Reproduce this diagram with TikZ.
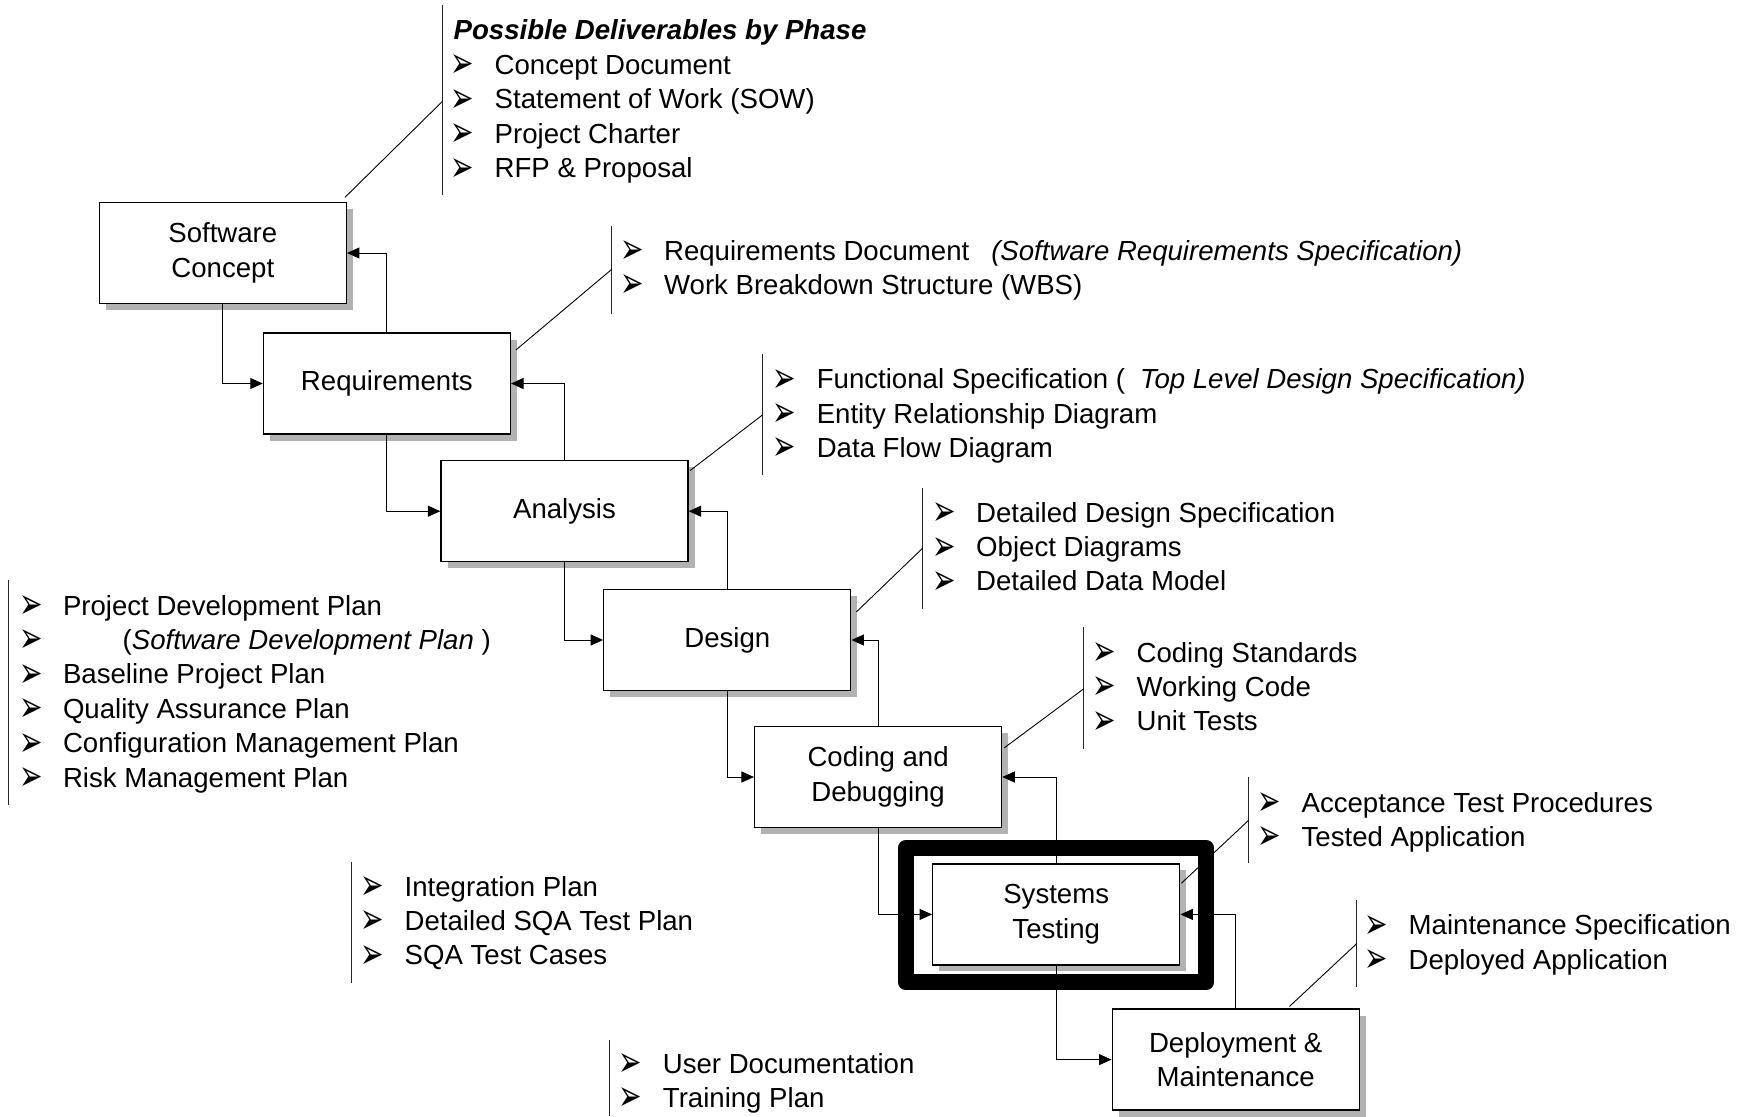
\documentclass[tikz,border=0pt]{standalone}
\usepackage{fontspec}
\usepackage{graphicx}
\setmainfont{Liberation Sans}
\newfontfamily\symfont{DejaVu Sans}
\usetikzlibrary{arrows.meta,shadows,calc}
\newcommand\blt{\makebox[41pt][l]{\hspace{-3pt}\smash{\raisebox{-3.5pt}{\scalebox{0.85}[1.3]{\symfont\fontsize{33}{33}\selectfont ➢}}}}}
\newcommand\itemlist[1]{\begin{tabular}[t]{@{}l@{}}#1\end{tabular}}
\begin{document}
\begin{tikzpicture}[x=1pt,y=-1pt,
  phase/.style={draw=black, line width=1.3pt, fill=white, minimum width=247pt,
    minimum height=101pt, inner sep=0pt, align=center,
    font=\fontsize{27.6}{34.4}\selectfont,
    drop shadow={shadow xshift=6.5pt, shadow yshift=-6.5pt, fill=black!30, opacity=1}},
  flow/.style={line width=1pt, -{Triangle[length=12.5pt,width=11pt]}},
  bar/.style={line width=1pt, black!85},
  lead/.style={line width=0.9pt},
  list/.style={anchor=base west, inner sep=0pt, font=\fontsize{27.6}{34.4}\selectfont},
  frame/.style={draw=black, line width=16pt, line join=round, minimum width=300pt,
    minimum height=134.7pt, inner sep=0pt}]
\useasboundingbox (0,0) rectangle (1747,1116);

% highlight frame
\node[frame] (hl) at (1056,915) {};

% phases
\node[phase] (SC) at (222.8,253)   {Software\\Concept};
\node[phase] (RQ) at (386.9,383.5) {Requirements};
\node[phase] (AN) at (564.5,511.2) {Analysis};
\node[phase] (DE) at (727.3,640)   {Design};
\node[phase] (CO) at (878.1,777)   {Coding and\\Debugging};
\node[phase] (ST) at (1056.2,914.4){Systems\\Testing};
\node[phase] (DP) at (1235.7,1059.6){Deployment \&\\Maintenance};

% forward and return connectors
\draw[flow] (SC.south) |- (RQ.west);
\draw[flow] (RQ.north) |- (SC.east);
\draw[flow] (RQ.south) |- (AN.west);
\draw[flow] (AN.north) |- (RQ.east);
\draw[flow] (AN.south) |- (DE.west);
\draw[flow] (DE.north) |- (AN.east);
\draw[flow] (DE.south) |- (CO.west);
\draw[flow] (CO.north) |- (DE.east);
\draw[flow] (CO.south) |- (ST.west);
\draw[flow] (ST.north) |- (CO.east);
\draw[flow] (ST.south) |- (DP.west);
\draw[flow] (DP.north) |- (ST.east);

% list bars
\draw[bar] (442,5) -- (442,195);
\draw[bar] (611.4,226) -- (611.4,314);
\draw[bar] (762.4,354) -- (762.4,475);
\draw[bar] (922.6,488) -- (922.6,609);
\draw[bar] (1083.6,627) -- (1083.6,749);
\draw[bar] (1248.6,777) -- (1248.6,863);
\draw[bar] (1356.8,900) -- (1356.8,987);
\draw[bar] (8.6,580) -- (8.6,805);
\draw[bar] (351.7,862) -- (351.7,983);
\draw[bar] (609,1040) -- (609,1116);

% lead lines
\coordinate (b1) at (442,101.8);
\coordinate (b2) at (611.4,269.6);
\coordinate (b3) at (762.4,415);
\coordinate (b4) at (922.6,548.2);
\coordinate (b5) at (1083.6,688.9);
\coordinate (b6) at (1248.6,820.3);
\coordinate (b7) at (1356.8,943.5);
\draw[lead] ($(SC.north east)+(-2,-4.5)$) -- (b1);
\draw[lead] ($(RQ.north east)+(5,17.5)$) -- (b2);
\draw[lead] ($(AN.north east)+(1.5,10.5)$) -- (b3);
\draw[lead] ($(DE.north east)+(5,23)$) -- (b4);
\draw[lead] ($(CO.north east)+(2,22)$) -- (b5);
\draw[lead] ($(ST.north east)+(1,20)$) -- (b6);
\draw[lead] ($(DP.north east)+(-70.4,-2)$) -- (b7);

% deliverable lists
\node[list] (L1) at (453.5,40) {\itemlist{\textbf{\textit{Possible Deliverables by Phase}}\\
  \blt Concept Document\\ \blt Statement of Work (SOW)\\ \blt Project Charter\\ \blt RFP \& Proposal}};
\node[list] (L2) at (622.9,260) {\itemlist{\blt Requirements Document\hspace{21.9pt}\textit{(Software Requirements Specification)}\\
  \blt Work Breakdown Structure (WBS)}};
\node[list] (L3) at (775.6,388.6) {\itemlist{\blt Functional Specification (\hspace{15pt}\textit{Top Level Design Specification)}\\
  \blt Entity Relationship Diagram\\ \blt Data Flow Diagram}};
\node[list] (L4) at (935,522.1) {\itemlist{\blt Detailed Design Specification\\ \blt Object Diagrams\\ \blt Detailed Data Model}};
\node[list] (L5) at (1095.4,662) {\itemlist{\blt Coding Standards\\ \blt Working Code\\ \blt Unit Tests}};
\node[list] (L6) at (1260.4,812) {\itemlist{\blt Acceptance Test Procedures\\ \blt Tested Application}};
\node[list] (L7) at (1367.5,934.6) {\itemlist{\blt Maintenance Specification\\ \blt Deployed Application}};
\node[list] (L8) at (21.8,615) {\itemlist{\blt Project Development Plan\\
  \blt\hspace{59.7pt}(\textit{Software Development Plan} )\\
  \blt Baseline Project Plan\\ \blt Quality Assurance Plan\\ \blt Configuration Management Plan\\ \blt Risk Management Plan}};
\node[list] (L9) at (363.5,896) {\itemlist{\blt Integration Plan\\ \blt Detailed SQA Test Plan\\ \blt SQA Test Cases}};
\node[list] (L10) at (621.7,1073) {\itemlist{\blt User Documentation\\ \blt Training Plan}};
\end{tikzpicture}
\end{document}
